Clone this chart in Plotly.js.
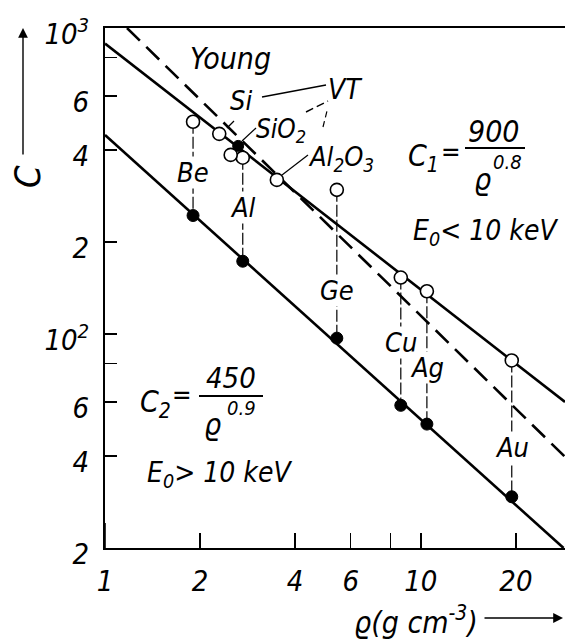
<!DOCTYPE html>
<html><head><meta charset="utf-8">
<script src="https://cdn.plot.ly/plotly-3.0.1.min.js"></script>
<style>html,body{margin:0;padding:0;background:#fff;}#chart{width:565px;height:639px;}
svg text{font-stretch:condensed;}</style>
</head><body><div id="chart"></div>
<script>
// ---- data ----
const elements = ['Be', 'Al', 'Ge', 'Cu', 'Ag', 'Au'];
const density = [1.90, 2.73, 5.42, 8.64, 10.45, 19.4];       // g cm^-3
const cUpper = [494, 377, 296, 153, 138, 82];                 // open circles (E0 < 10 keV)
const cLower = [244, 173, 97, 58.5, 50.8, 29.4];              // filled circles (E0 > 10 keV)
const compoundNames = ['Si', 'SiO2', 'Al2O3'];
const compoundDensity = [2.30, 2.50, 3.50];
const compoundC = [451, 385, 319];
const youngPointX = [2.64];
const youngPointC = [412];
const c1LineX = [1, 28.6];      const c1LineC = [890, 60];    // C1 = 900/rho^0.8
const c2LineX = [1, 28.3];      const c2LineC = [447, 20];    // C2 = 450/rho^0.9
const youngLineX = [1.174, 28.6]; const youngLineC = [1000, 39.7]; // Young (dashed)
const xTickVals = [1, 2, 4, 6, 8, 10, 20];
const xTickText = ['1', '2', '4', '6', '', '10', '20'];
const yTickVals = [20, 40, 60, 80, 100, 200, 400, 600, 800, 1000];
const yTickText = ['2', '4', '6', '', '10<sup>2</sup>', '2', '4', '6', '', '10<sup>3</sup>'];

// ---- layout helpers (pixel -> paper) ----
const L = 105, R = 565, T = 28, B = 548;
const px = x => (x - L) / (R - L);
const py = y => (B - y) / (B - T);
const FONT = '"DejaVu Sans Condensed", "DejaVu Sans", sans-serif';
function ann(text, x, y, size, extra) {
  return Object.assign({
    text: text, x: px(x), y: py(y), xref: 'paper', yref: 'paper', showarrow: false,
    xanchor: 'center', yanchor: 'middle',
    font: { family: FONT, size: size, color: '#000', style: 'italic' }
  }, extra || {});
}
function seg(x0, y0, x1, y1, w, dash) {
  return { type: 'line', xref: 'paper', yref: 'paper', x0: px(x0), y0: py(y0), x1: px(x1), y1: py(y1),
           line: { color: '#000', width: w || 1.2, dash: dash || 'solid' } };
}

const traces = [];
traces.push({ x: c1LineX, y: c1LineC, mode: 'lines', line: { color: '#000', width: 2.6 }, hoverinfo: 'skip' });
traces.push({ x: c2LineX, y: c2LineC, mode: 'lines', line: { color: '#000', width: 2.6 }, hoverinfo: 'skip' });
traces.push({ x: youngLineX, y: youngLineC, mode: 'lines', line: { color: '#000', width: 2.6, dash: '18px,9px' }, hoverinfo: 'skip' });
elements.forEach((e, i) => {
  traces.push({ x: [density[i], density[i]], y: [cUpper[i], cLower[i]], mode: 'lines',
                line: { color: '#000', width: 1.2, dash: '12px,3px' }, hoverinfo: 'skip' });
});
traces.push({ x: density, y: cLower, mode: 'markers', name: 'E0 > 10 keV',
              marker: { symbol: 'circle', size: 12, color: '#000', line: { color: '#000', width: 1 } } });
traces.push({ x: youngPointX, y: youngPointC, mode: 'markers', name: 'Young',
              marker: { symbol: 'circle', size: 11, color: '#000', line: { color: '#000', width: 1 } } });
traces.push({ x: density, y: cUpper, mode: 'markers', name: 'E0 < 10 keV', text: elements,
              marker: { symbol: 'circle', size: 13, color: '#fff', line: { color: '#000', width: 1.6 } } });
traces.push({ x: compoundDensity, y: compoundC, mode: 'markers', name: 'VT', text: compoundNames,
              marker: { symbol: 'circle', size: 13, color: '#fff', line: { color: '#000', width: 1.6 } } });

const labelPy = [172, 207, 290, 342, 367, 447];
const annotations = [];
elements.forEach((e, i) => {
  annotations.push({ text: e, x: Math.log10(density[i]), xref: 'x', y: py(labelPy[i]), yref: 'paper',
    showarrow: false, xanchor: 'center', yanchor: 'middle', bgcolor: '#fff', borderpad: 0,
    font: { family: FONT, size: 27, color: '#000', style: 'italic' } });
});
annotations.push(ann('Young', 230, 58, 30));
annotations.push(ann('Si', 241, 101, 27));
annotations.push(ann('SiO<sub>2</sub>', 281, 130, 26));
annotations.push(ann('VT', 345, 89, 28));
annotations.push(ann('Al<sub>2</sub>O<sub>3</sub>', 341, 158, 27));
// C1 formula
annotations.push(ann('C<sub>1</sub>', 423, 157, 30));
annotations.push(ann('=', 451, 152, 26));
annotations.push(ann('900', 494, 132, 30));
annotations.push(ann('ϱ', 482, 180, 30));
annotations.push(ann('0.8', 507, 162, 20));
annotations.push(ann('E<sub>0</sub>< 10 keV', 411, 232, 28, { xanchor: 'left' }));
// C2 formula
annotations.push(ann('C<sub>2</sub>', 155, 403, 30));
annotations.push(ann('=', 182, 395, 26));
annotations.push(ann('450', 231, 378, 29));
annotations.push(ann('ϱ', 212, 424, 30));
annotations.push(ann('0.9', 241, 408, 20));
annotations.push(ann('E<sub>0</sub>> 10 keV', 145, 474, 28, { xanchor: 'left' }));
// axis titles
annotations.push(ann('C', 27, 177, 36, { textangle: -90 }));
annotations.push({ text: '', x: px(23), y: py(28), xref: 'paper', yref: 'paper', showarrow: true,
  ax: 0, ay: 128, arrowhead: 2, arrowsize: 1.4, arrowwidth: 1.4, arrowcolor: '#000' });
annotations.push(ann('ϱ(g cm<sup>-3</sup>)', 416, 620, 30));
annotations.push({ text: '', x: px(563), y: py(618), xref: 'paper', yref: 'paper', showarrow: true,
  ax: -80, ay: 0, arrowhead: 2, arrowsize: 1.4, arrowwidth: 1.4, arrowcolor: '#000' });

const shapes = [
  seg(465, 148, 525, 148, 2),          // C1 fraction bar
  seg(199, 396, 263, 396, 2),          // C2 fraction bar
  seg(227, 128, 234, 121, 1.2),        // Si label -> circle
  seg(262, 97, 326, 85, 1.4),          // Si -> VT
  seg(242, 141, 256, 128, 1.2),        // SiO2 label -> point
  seg(306, 112, 328, 101, 1.4, '8px,4px'), // SiO2 -> VT
  seg(323, 127, 327, 111, 1.2, '6px,4px'), // VT -> Al2O3
  seg(282, 175, 308, 155, 1.2),        // Al2O3 label -> circle
  { type: 'line', xref: 'x', yref: 'paper', x0: Math.log10(2), x1: Math.log10(2), y0: 0, y1: 25 / 520, line: { color: '#000', width: 1.6 } },
  { type: 'line', xref: 'x', yref: 'paper', x0: 1, x1: 1, y0: 0, y1: 25 / 520, line: { color: '#000', width: 1.6 } },
  { type: 'line', xref: 'paper', yref: 'y', x0: 0, x1: 21 / 460, y0: 2, y1: 2, line: { color: '#000', width: 1.6 } }
];

const layout = {
  width: 565, height: 639,
  margin: { l: 105, r: 0, t: 28, b: 91 },
  paper_bgcolor: '#fff', plot_bgcolor: '#fff',
  showlegend: false,
  font: { family: FONT, color: '#000' },
  xaxis: {
    type: 'log', range: [0, Math.log10(28.6)], showgrid: false, zeroline: false,
    showline: true, linecolor: '#000', linewidth: 2, mirror: true,
    ticks: 'inside', ticklen: 15, tickwidth: 1.4, tickcolor: '#000',
    tickmode: 'array', tickvals: xTickVals, ticktext: xTickText,
    tickfont: { family: FONT, size: 29, color: '#000', style: 'italic' }, ticklabelstandoff: 6
  },
  yaxis: {
    type: 'log', range: [Math.log10(20), 3.0001], showgrid: false, zeroline: false,
    showline: true, linecolor: '#000', linewidth: 2,
    ticks: 'inside', ticklen: 12, tickwidth: 1.4, tickcolor: '#000',
    tickmode: 'array', tickvals: yTickVals, ticktext: yTickText,
    tickfont: { family: FONT, size: 29, color: '#000', style: 'italic' },
    ticklabelstandoff: 8, ticklabelshift: 6
  },
  annotations: annotations,
  shapes: shapes
};
Plotly.newPlot('chart', traces, layout, { displayModeBar: false, staticPlot: true });
</script>
</body></html>
